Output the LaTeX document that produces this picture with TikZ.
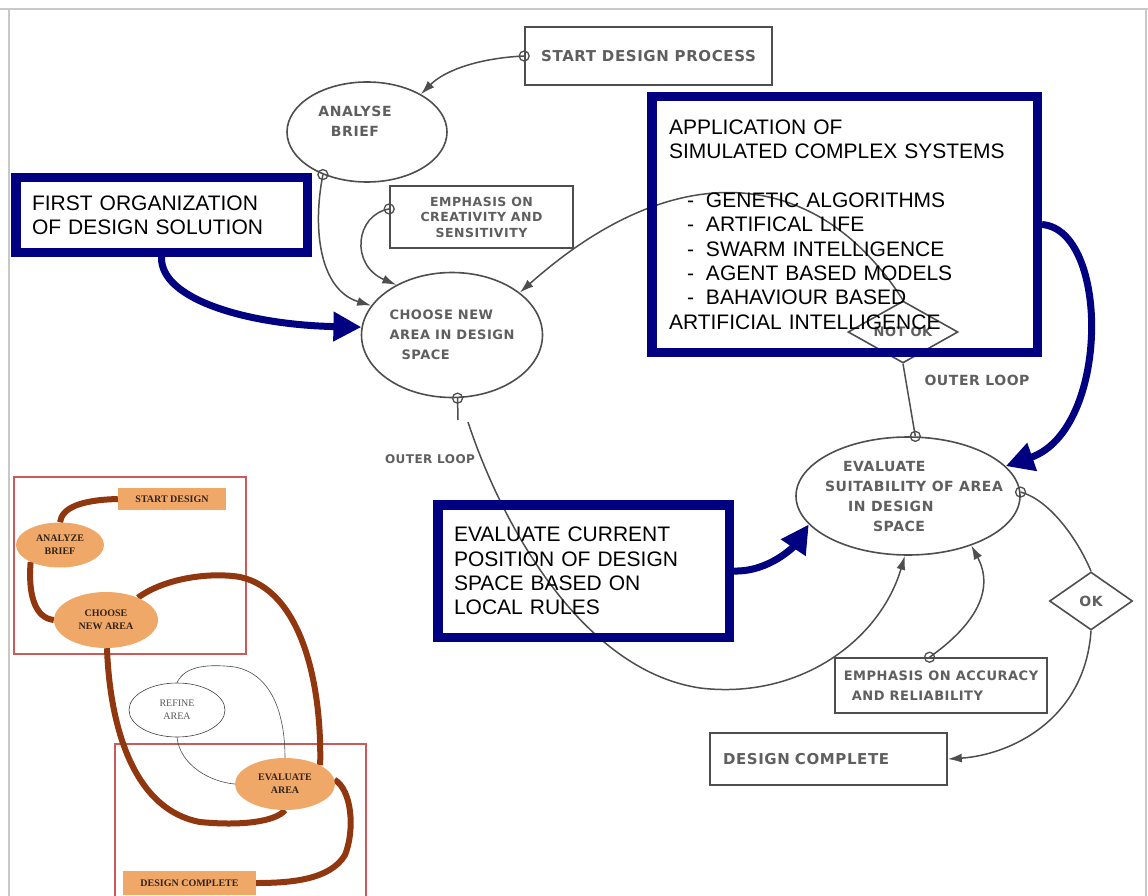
\documentclass[tikz,border=0pt]{standalone}
\usepackage{fontspec}
\setmainfont{Liberation Sans}
\newfontfamily\handfont[LetterSpace=4]{DejaVu Sans Bold}
\newfontfamily\insetfont{Liberation Serif}
\usetikzlibrary{shapes.geometric,arrows.meta}
\pgfdeclarelayer{background}
\pgfsetlayers{background,main}
\definecolor{navyb}{RGB}{0,0,128}
\definecolor{pencil}{RGB}{78,78,78}
\definecolor{ptext}{RGB}{95,95,95}
\definecolor{rust}{RGB}{145,55,15}
\definecolor{peach}{RGB}{240,168,104}
\definecolor{redline}{RGB}{205,90,90}
\definecolor{framegray}{RGB}{200,200,200}
\definecolor{insettext}{RGB}{50,35,25}
\tikzset{
  handtxt/.style={font=\handfont\fontsize{13}{20}\selectfont, text=ptext},
  hmid/.style={font=\handfont\fontsize{14}{20}\selectfont, text=ptext},
  hbig/.style={font=\handfont\fontsize{15}{20}\selectfont, text=ptext},
  hsmall/.style={font=\handfont\fontsize{12.5}{15.5}\selectfont, text=ptext},
  pbox/.style={draw=pencil, line width=1.6pt, rectangle, inner sep=0pt},
  pell/.style={draw=pencil, line width=1.6pt, ellipse, inner sep=0pt},
  pdiam/.style={draw=pencil, line width=1.6pt, diamond, inner sep=0pt},
  pline/.style={draw=pencil, line width=1.5pt},
  parrow/.style={pline, -{Latex[length=14pt,width=9pt]}},
  pdot/.style={draw=pencil, line width=1.3pt},
  bluebox/.style={draw=navyb, line width=9.5pt, rectangle, inner sep=0pt, align=left, font=\fontsize{21}{24.4}\selectfont, text=black},
  bluearrow/.style={draw=navyb, line width=7pt, -{Triangle[length=28pt,width=28pt]}},
  inode/.style={fill=peach, draw=none, inner sep=0pt, align=center, font=\insetfont\bfseries\fontsize{10}{13}\selectfont, text=insettext},
  ibrown/.style={draw=rust, line width=6pt},
  ithin/.style={draw=black!70, line width=0.6pt},
  iframe/.style={draw=redline, line width=1.1pt},
}
\begin{document}
\begin{tikzpicture}[x=1pt,y=-1pt]
\begin{pgfonlayer}{background}
\fill[white] (0,0) rectangle (1148,896);
\end{pgfonlayer}
\useasboundingbox (0,0) rectangle (1148,896);
\draw[framegray, line width=1.2pt] (0,9) -- (1148,9);
\draw[framegray, line width=1.2pt] (9,9) -- (9,896);
\draw[framegray, line width=1.2pt] (1146,9) -- (1146,896);

% ---------- hand-drawn diagram ----------
\node[pbox, hbig, minimum width=247pt, minimum height=58pt] (start) at (648.5,56) {START DESIGN PROCESS};
\node[pell, minimum width=160pt, minimum height=100pt,
  label={[hmid, align=center, xshift=-12pt, yshift=11pt]center:ANALYSE\\BRIEF}] (analyse) at (367,132) {};
\node[pbox, hsmall, align=center, minimum width=183pt, minimum height=62pt] (emph1) at (481.5,217) {EMPHASIS ON\\CREATIVITY AND\\SENSITIVITY};
\node[pell, minimum width=181pt, minimum height=125pt,
  label={[handtxt, align=left]center:CHOOSE NEW\\AREA IN DESIGN\\\hspace*{12pt}SPACE}] (choose) at (452,335) {};
\node[pdiam, minimum width=110pt, minimum height=62pt,
  label={[handtxt]center:NOT OK}] (notok) at (903,332) {};
\node[pell, minimum width=224pt, minimum height=118pt,
  label={[hmid, align=left, xshift=6pt]center:\hspace*{18pt}EVALUATE\\SUITABILITY OF AREA\\\hspace*{23pt}IN DESIGN\\\hspace*{48pt}SPACE}] (evaluate) at (908,496) {};
\node[pdiam, minimum width=83pt, minimum height=58pt,
  label={[hmid]center:OK}] (ok) at (1091,601) {};
\node[pbox, handtxt, align=left, minimum width=212pt, minimum height=55pt] (emph2) at (941,685.5) {EMPHASIS ON ACCURACY\\\hspace*{8pt}AND RELIABILITY};
\node[pbox, hbig, align=left, text width=211pt, minimum width=237pt, minimum height=52pt] (done) at (828.5,759) {DESIGN COMPLETE};

\draw[parrow] (start.west) .. controls (480,58) and (445,70) .. (analyse.35);
\draw[pdot] (start.west) circle (5pt);
\draw[parrow] (analyse.224) .. controls (312,230) and (320,290) .. (choose.160);
\draw[pdot] (analyse.224) circle (5pt);
\draw[parrow] (emph1.175) .. controls (355,215) and (350,265) .. (choose.138);
\draw[pdot] (emph1.175) circle (5pt);
\draw[parrow] (notok.north) .. controls (820,170) and (680,150) .. (choose.32);
\draw[pline] (notok.south) -- (evaluate.83);
\draw[pdot] (evaluate.83) circle (5pt);
\node[hmid] (ol1) at (977,380) {OUTER LOOP};
\coordinate (olA) at (458,420);
\coordinate (olB) at (468,422);
\draw[pline] (choose.-85) -- (olA);
\draw[pdot] (choose.-85) circle (5pt);
\draw[parrow] (olB) .. controls (500,520) and (580,670) .. (700,688) .. controls (800,700) and (880,640) .. (evaluate.-93);
\node[font=\handfont\fontsize{12}{14}\selectfont, text=ptext] (ol2) at (430,459) {OUTER LOOP};
\draw[pline] (evaluate.2) .. controls (1050,500) and (1078,540) .. (ok.north);
\draw[pdot] (evaluate.2) circle (5pt);
\draw[parrow] (ok.south) .. controls (1085,720) and (1010,755) .. (done.east);
\draw[parrow] (emph2.112) .. controls (975,625) and (995,590) .. (evaluate.-38);
\draw[pdot] (emph2.112) circle (5pt);

% ---------- blue overlay ----------
\node[bluebox, minimum width=291.5pt, minimum height=74.5pt, text width=259pt] (fo) at (161.5,215) {FIRST ORGANIZATION\\OF DESIGN SOLUTION};
\node[bluebox, minimum width=385.5pt, minimum height=255.5pt, text width=351pt] (app) at (844.5,224.5) {APPLICATION OF\\SIMULATED COMPLEX SYSTEMS\\~\\\hspace*{18pt}-\hspace*{12pt}GENETIC ALGORITHMS\\\hspace*{18pt}-\hspace*{12pt}ARTIFICAL LIFE\\\hspace*{18pt}-\hspace*{12pt}SWARM INTELLIGENCE\\\hspace*{18pt}-\hspace*{12pt}AGENT BASED MODELS\\\hspace*{18pt}-\hspace*{12pt}BAHAVIOUR BASED\\ARTIFICIAL INTELLIGENCE};
\node[bluebox, minimum width=291.5pt, minimum height=132.5pt, text width=259pt] (evc) at (583.5,571) {EVALUATE CURRENT\\POSITION OF DESIGN\\SPACE BASED ON\\LOCAL RULES};
\draw[bluearrow] (fo.south) .. controls (160,300) and (250,325) .. (choose.175);
\draw[bluearrow] (app.east) .. controls (1110,230) and (1110,430) .. (evaluate.17);
\draw[bluearrow] (evc.east) .. controls (770,572) and (795,545) .. (evaluate.196);

% ---------- inset ----------
\node[inode, minimum width=108pt, minimum height=22pt] (isd) at (172,499) {START DESIGN};
\node[inode, ellipse, minimum width=88pt, minimum height=45pt] (iab) at (60,545) {ANALYZE\\BRIEF};
\node[inode, ellipse, minimum width=104pt, minimum height=56pt] (icn) at (106,620) {CHOOSE\\NEW AREA};
\node[ellipse, draw=black!75, line width=0.6pt, fill=white, minimum width=96pt, minimum height=54pt, inner sep=0pt, align=center, font=\insetfont\fontsize{10}{13}\selectfont, text=black!65] (ira) at (177,710) {REFINE\\AREA};
\node[inode, ellipse, minimum width=100pt, minimum height=52pt] (iea) at (285,784) {EVALUATE\\AREA};
\node[inode, minimum width=133pt, minimum height=24pt] (idc) at (189.5,883) {DESIGN COMPLETE};
\begin{pgfonlayer}{background}
\draw[iframe] (14,477) rectangle (246,654);
\draw[iframe] (115,744) rectangle (366,900);
\draw[ibrown] (isd.west) .. controls (80,500) and (62,508) .. (iab.north);
\draw[ibrown] (iab.210) .. controls (28,595) and (35,618) .. (icn.west);
\draw[ibrown] (icn.35) .. controls (165,578) and (210,572) .. (240,577) .. controls (300,590) and (322,680) .. (iea.28);
\draw[ibrown] (icn.-88) .. controls (110,730) and (135,810) .. (200,822) .. controls (240,826) and (275,822) .. (iea.south);
\draw[ibrown] (iea.5) .. controls (352,790) and (355,830) .. (345,855) .. controls (330,880) and (290,883) .. (idc.east);
\draw[ithin] (ira.north) .. controls (185,665) and (210,664) .. (235,667) .. controls (275,675) and (285,720) .. (iea.north);
\draw[ithin] (ira.south) .. controls (180,765) and (210,782) .. (iea.west);
\end{pgfonlayer}
\end{tikzpicture}
\end{document}
